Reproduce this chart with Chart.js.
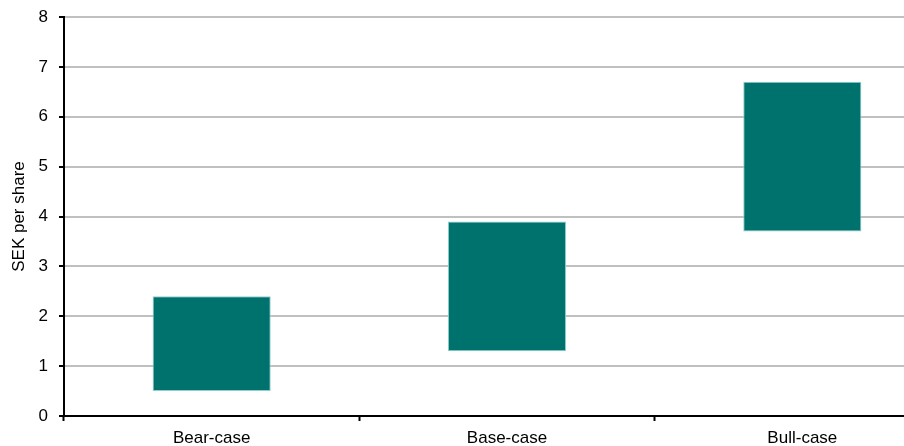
<!DOCTYPE html>
<html>
<head>
<meta charset="utf-8">
<script src="https://cdn.jsdelivr.net/npm/chart.js@4/dist/chart.umd.min.js"></script>
<style>
  html, body { margin: 0; padding: 0; background: #fff; overflow: hidden; }
  #wrap { position: relative; width: 952px; height: 446px; }
</style>
</head>
<body>
<div id="wrap"><canvas id="rangeChart"></canvas></div>
<script>
const categories = ['Bear-case', 'Base-case', 'Bull-case'];
const lowValues = [0.5, 1.3, 3.7];
const highValues = [2.4, 3.9, 6.7];
const yTicks = [0, 1, 2, 3, 4, 5, 6, 7, 8];

const fontFamily = 'Liberation Sans, Arial, sans-serif';

const ctx = document.getElementById('rangeChart').getContext('2d');
new Chart(ctx, {
  type: 'bar',
  data: {
    labels: categories,
    datasets: [{
      label: 'SEK per share',
      data: categories.map((c, i) => [lowValues[i], highValues[i]]),
      backgroundColor: '#00726E',
      borderColor: '#8fcfca',
      borderWidth: 1,
      borderSkipped: false,
      barPercentage: 0.4,
      categoryPercentage: 1
    }]
  },
  options: {
    responsive: true,
    maintainAspectRatio: false,
    animation: false,
    layout: { padding: { top: 17, right: 2, left: 0, bottom: 0 } },
    plugins: {
      legend: { display: false },
      tooltip: { enabled: false }
    },
    scales: {
      x: {
        offset: true,
        afterFit: (scale) => { scale.height = 30; },
        grid: {
          offset: true,
          drawOnChartArea: false,
          drawTicks: true,
          tickLength: 5,
          tickColor: '#000',
          tickWidth: 2
        },
        border: { color: '#000', width: 2 },
        ticks: {
          color: '#000',
          padding: 7,
          font: { family: fontFamily, size: 17 }
        }
      },
      y: {
        min: 0,
        max: 8,
        afterFit: (scale) => {
          scale.width = 64;
          scale.paddingTop = 0;
          scale.paddingBottom = 0;
        },
        afterBuildTicks: (scale) => { scale.ticks = yTicks.map(v => ({ value: v })); },
        grid: {
          color: '#c0c0c0',
          lineWidth: 2,
          tickLength: 5,
          tickColor: '#000',
          tickWidth: 2
        },
        border: { color: '#000', width: 2 },
        ticks: {
          color: '#000',
          padding: 11,
          font: { family: fontFamily, size: 17 }
        },
        title: {
          display: true,
          text: 'SEK per share',
          color: '#000',
          padding: { top: 9, bottom: 0 },
          font: { family: fontFamily, size: 17 }
        }
      }
    }
  }
});
</script>
</body>
</html>
